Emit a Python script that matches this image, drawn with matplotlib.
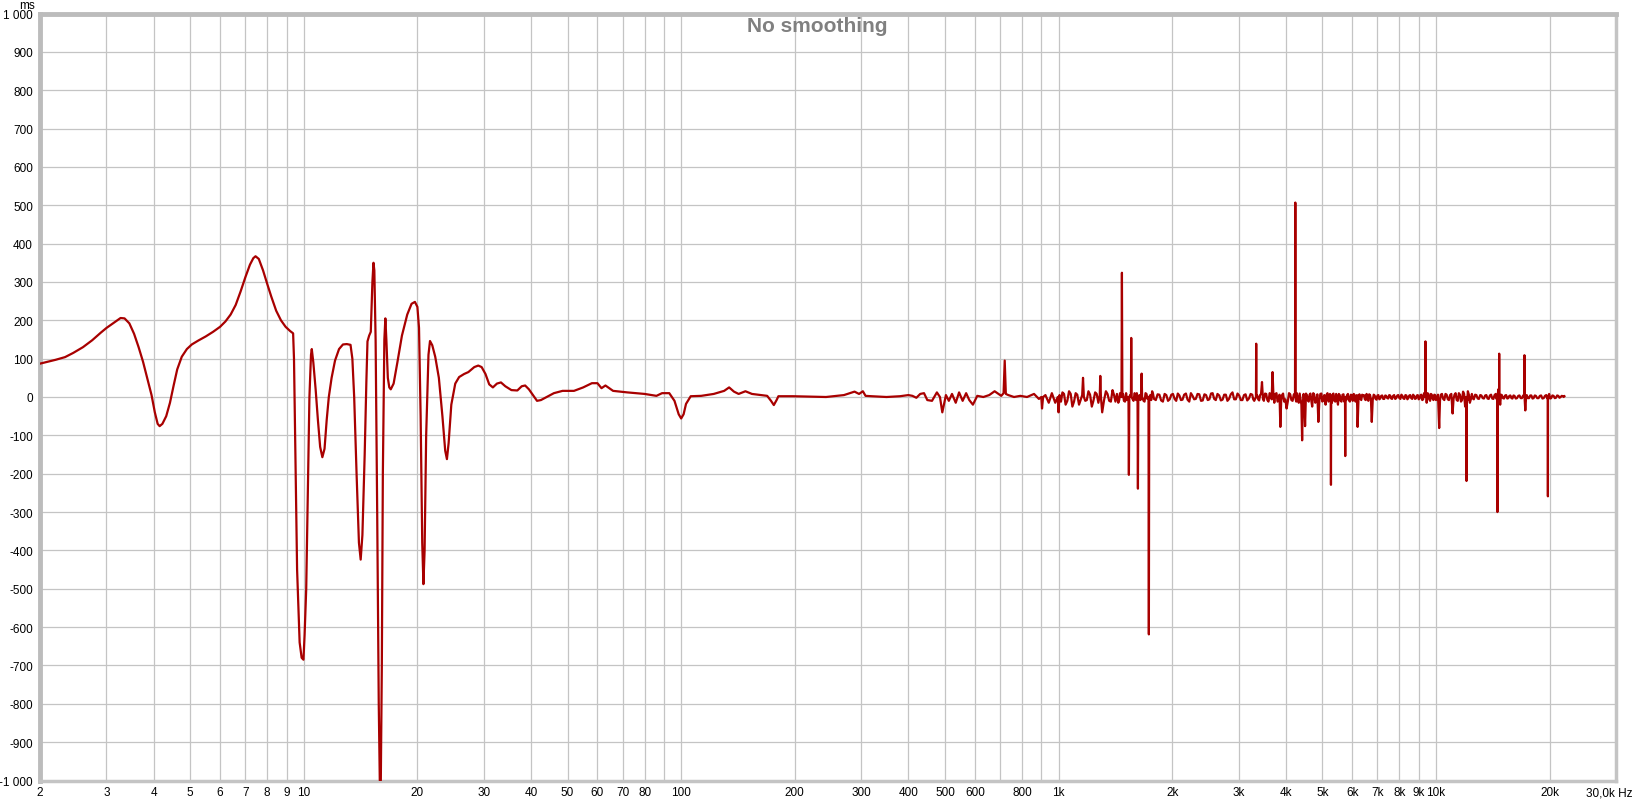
import matplotlib
matplotlib.use("Agg")
import matplotlib.pyplot as plt
from matplotlib.transforms import ScaledTranslation

# Group delay, values in ms.
# 2 Hz - 380 Hz: smooth part
lf_hz = [2.0, 2.1, 2.2, 2.33, 2.45, 2.6, 2.75, 2.9, 3.0, 3.1,
         3.2, 3.27, 3.35, 3.45, 3.55, 3.65, 3.75, 3.85, 3.95, 4.03,
         4.1, 4.15, 4.22, 4.32, 4.42, 4.52, 4.62, 4.75, 4.9, 5.05,
         5.25, 5.5, 5.75, 6.0, 6.2, 6.4, 6.6, 6.8, 7.0, 7.2,
         7.35, 7.45, 7.6, 7.8, 8.0, 8.2, 8.45, 8.7, 8.95, 9.2,
         9.37, 9.42, 9.5, 9.6, 9.75, 9.87, 9.98, 10.05, 10.15, 10.25,
         10.35, 10.45, 10.5, 10.6, 10.75, 10.9, 11.05, 11.2, 11.35, 11.5,
         11.65, 11.85, 12.1, 12.4, 12.7, 13.0, 13.3, 13.45, 13.6, 13.8,
         14.0, 14.15, 14.3, 14.5, 14.65, 14.75, 14.9, 15.05, 15.2, 15.3,
         15.38, 15.5, 15.65, 15.8, 15.9, 16.0, 16.1, 16.2, 16.35, 16.45,
         16.55, 16.7, 16.85, 17.0, 17.3, 17.7, 18.2, 18.8, 19.3, 19.7,
         20.0, 20.2, 20.4, 20.6, 20.75, 20.9, 21.1, 21.4, 21.6, 21.9,
         22.3, 22.8, 23.3, 23.7, 23.95, 24.2, 24.6, 25.2, 25.8, 26.6,
         27.3, 28.3, 29.0, 29.6, 30.3, 31.0, 31.7, 32.5, 33.3, 34.2,
         35.5, 36.8, 37.8, 38.6, 39.5, 40.5, 41.5, 42.5, 44.0, 46.0,
         48.5, 52, 55, 58, 60, 61.5, 63, 66, 72, 80,
         86, 89, 93, 96, 98.5, 100, 101.5, 103, 106, 113,
         122, 130, 134, 138, 142, 148, 154, 169, 173, 176,
         179, 181, 198, 242, 270, 288, 296, 303, 308, 320,
         350, 380]
lf_ms = [87, 92, 97, 104, 115, 130, 148, 168, 180, 190,
         200, 206, 205, 192, 165, 130, 92, 48, 5, -40,
         -70, -76, -70, -50, -15, 30, 72, 105, 125, 137,
         147, 158, 170, 183, 197, 215, 240, 275, 312, 345,
         362, 367, 360, 330, 295, 262, 225, 200, 183, 172,
         166, 100, -150, -450, -640, -680, -685, -620, -500, -250,
         0, 110, 125, 90, 20, -60, -130, -157, -135, -60,
         0, 50, 95, 125, 137, 138, 136, 100, 0, -200,
         -380, -424, -360, -150, 40, 145, 160, 170, 300, 350,
         330, 150, -300, -800, -1000, -1000, -700, -200, 150, 205,
         150, 50, 25, 20, 35, 90, 160, 215, 243, 248,
         235, 180, -50, -380, -488, -400, -100, 110, 146, 135,
         105, 50, -50, -140, -162, -120, -20, 35, 52, 60,
         65, 78, 82, 78, 60, 33, 25, 35, 38, 28,
         18, 17, 28, 30, 20, 5, -10, -8, 0, 10,
         16, 16, 25, 36, 36, 23, 30, 16, 12, 8,
         3, 10, 10, -10, -45, -56, -45, -18, 2, 3,
         8, 16, 25, 14, 8, 15, 8, 3, -10, -21,
         -8, 2, 2, 0, 5, 14, 8, 15, 3, 2,
         0, 2]

# 400 Hz - 1.8 kHz: noisy part with the first spikes
mid_hz = [400, 410, 420, 430, 440, 449, 462, 476, 485, 492,
          503, 512, 522, 534, 545, 557, 569, 580, 593, 609,
          632, 655, 677, 705, 715, 720, 725, 736, 762, 792,
          825, 861, 887, 900, 904, 910, 923, 942, 960, 980,
          995, 1000, 1006, 1024, 1044, 1066, 1088, 1110, 1133, 1155,
          1161, 1167, 1177, 1200, 1225, 1250, 1275, 1286, 1290, 1295,
          1305, 1335, 1362, 1390, 1415, 1440, 1455, 1468, 1472, 1476,
          1490, 1510, 1525, 1532, 1536, 1540, 1548, 1555, 1558, 1562,
          1570, 1590, 1605, 1619, 1623, 1627, 1640, 1655, 1660, 1665,
          1680, 1700, 1720, 1731, 1735, 1739, 1750, 1770, 1790]
mid_ms = [5, 3, -2, 8, 10, -8, -10, 12, 0, -40,
          5, -10, 8, -15, 12, -10, 10, -8, -20, 3,
          0, 5, 15, 3, 10, 95, 8, 5, 0, 3,
          0, 8, -5, 0, -30, 0, 5, -15, 10, -15,
          0, -40, 5, 12, -20, 15, -25, 10, -20, 5,
          50, 0, -10, 15, -25, 12, -15, 5, 55, 0,
          -40, 15, -10, 18, -12, -15, 10, 0, 324, 0,
          -10, 10, 0, 0, -203, 0, 5, 0, 154, 0,
          -5, 10, -8, 0, -239, 0, 5, 0, 61, 0,
          -10, 10, -5, 0, -619, 0, 5, 15, -5]

# 1.8 kHz - 22 kHz
hi_hz = [1810, 1850, 1890, 1930, 1970, 2010, 2050, 2090, 2130, 2175,
         2220, 2265, 2310, 2360, 2410, 2460, 2510, 2560, 2610, 2665,
         2720, 2775, 2830, 2890, 2950, 3010, 3070, 3130, 3195, 3260,
         3300, 3335, 3340, 3345, 3380, 3420, 3460, 3500, 3550, 3600,
         3650, 3690, 3730, 3780, 3830, 3870, 3910, 3960, 4020, 4080,
         4140, 4200, 4232, 4240, 4248, 4280, 4330, 4380, 4420, 4460,
         4500, 4550, 4600, 4650, 4700, 4760, 4820, 4880, 4940, 5000,
         5060, 5100, 5160, 5220, 5262, 5270, 5278, 5320, 5380, 5440,
         5500, 5560, 5620, 5690, 5742, 5750, 5758, 5810, 5880, 5950,
         6020, 6090, 6150, 6200, 6270, 6340, 6410, 6480, 6550, 6620,
         6690, 6760, 6840, 6920, 7000, 7080, 7160, 7250, 7340, 7430,
         7520, 7610, 7700, 7800, 7900, 8000, 8100, 8200, 8300, 8400,
         8500, 8600, 8700, 8800, 8900, 9000, 9100, 9200, 9300, 9370,
         9380, 9390, 9450, 9550, 9650, 9750, 9850, 9950, 10050, 10200,
         10300, 10450, 10600, 10750, 10900, 11070, 11200, 11350, 11500, 11650,
         11800, 11950, 12040, 12050, 12060, 12150, 12300, 12450, 12600, 12800,
         13000, 13200, 13400, 13600, 13800, 14000, 14200, 14400, 14540, 14550,
         14560, 14630, 14700, 14710, 14720, 14800, 14950, 15150, 15350, 15550,
         15750, 15950, 16150, 16400, 16650, 16900, 17150, 17160, 17170, 17250,
         17400, 17650, 17900, 18150, 18400, 18700, 19000, 19300, 19600, 19790,
         19800, 19810, 19950, 20200, 20500, 20800, 21100, 21400, 21700, 21900]
hi_ms = [-8, 6, -12, 5, -6, 8, -10, 4, -7, 9,
         -12, 3, -5, 7, -9, 5, -6, 10, -8, 4,
         -7, 6, -5, 12, -6, 4, -8, 7, -4, 6,
         -10, 0, 139, 0, -6, 5, 39, -10, 8, -12,
         6, 65, -15, 10, -8, -78, 5, -12, -30, 10,
         -8, 6, 0, 507, -5, 10, -15, -8, -113, 8,
         -76, 5, -12, 9, -25, 6, -10, -65, 8, -12,
         5, -20, 10, -8, 0, -229, 0, 6, -10, 8,
         -20, 5, -12, 7, 0, -154, 0, 4, -8, 6,
         -10, 5, -6, -78, 7, -8, 4, -6, 8, -10,
         5, -65, 6, -5, 4, -6, 3, -5, 4, -3,
         5, -4, 3, -5, 4, -3, 6, -4, 5, -6,
         4, -3, 6, -5, 4, -6, 5, -8, 10, 0,
         145, 0, -15, 8, -10, 6, -8, 5, -6, -81,
         6, -5, 8, -6, 5, -43, 6, -8, 10, -12,
         14, -25, 0, -219, 0, 15, -15, 8, -6, 5,
         -5, 4, -4, 5, -5, 6, -5, 8, 0, -300,
         0, 20, 0, 113, 0, -20, 5, -4, 5, -3,
         4, -4, 3, -3, 4, -3, 0, 109, 0, -35,
         5, -3, 4, -3, 3, -3, 4, -3, 5, 0,
         -259, 0, 8, -3, 3, -2, 3, 0, 2, 2]

# extra readings in between, where the trace is a dense noise band
band_hz = [1015, 1034, 1055, 1077, 1099, 1121, 1144, 1188, 1212, 1237,
           1262, 1320, 1348, 1376, 1402, 1428, 1448, 1482, 1500, 1518,
           1580, 1598, 1612, 1648, 1690, 1710, 1760, 1780,
           1830, 1870, 1910, 1950, 1990, 2030, 2070, 2110, 2152, 2197,
           2242, 2287, 2335, 2385, 2435, 2485, 2535, 2585, 2637, 2692,
           2747, 2802, 2860, 2920, 2980, 3040, 3100, 3162, 3228, 3280,
           3362, 3400, 3440, 3480, 3525, 3575, 3625, 3670, 3710, 3755,
           3805, 3850, 3890, 3935, 3990, 4050, 4110, 4170, 4216, 4264,
           4305, 4355, 4400, 4440, 4480, 4525, 4575, 4625, 4675, 4730,
           4790, 4850, 4910, 4970, 5030, 5080, 5130, 5190, 5240, 5300,
           5350, 5410, 5470, 5530, 5590, 5655, 5715, 5785, 5845, 5915,
           5985, 6055, 6120, 6175, 6235, 6305, 6375, 6445, 6515, 6585,
           6655, 6725, 6800, 6880, 6960,
           7040, 7120, 7205, 7295, 7385, 7475, 7565, 7655, 7750, 7850,
           7950, 8050, 8150, 8250, 8350, 8450, 8550, 8650, 8750, 8850,
           8950, 9050, 9150, 9250, 9335,
           9420, 9500, 9600, 9700, 9800, 9900, 10000, 10125, 10250, 10375,
           10525, 10675, 10825, 10985, 11135, 11275, 11425, 11575, 11725, 11875,
           12105, 12225, 12375, 12525, 12700, 12900, 13100, 13300, 13500, 13700,
           13900, 14100, 14300, 14470,
           14875, 15050, 15250, 15450, 15650, 15850, 16050, 16275, 16525, 16775,
           17025, 17325, 17525, 17775, 18025, 18275, 18550, 18850, 19150, 19450,
           19700, 20075, 20350, 20650, 20950, 21250, 21550, 21800]
band_ms = [-12, 8, -10, 8, -12, 6, -8, -8, 6, -10,
           8, -8, 8, -12, 6, 8, -8, 8, -12, -8,
           -10, 6, 10, -8, -12, 8, -8, 8,
           7, -9, 8, -10, 6, -5, 9, -8, 6, -7,
           10, -6, 8, -10, 7, -8, 9, -5, 8, -9,
           6, -10, 7, -6, 9, -8, 5, -9, 8, -6,
           4, -9, 8, -5, 9, -8, 10, -6, 5, 8,
           -12, 6, -10, 9, -6, -12, 7, -10, 8, -12,
           -6, 9, -20, -15, -10, 9, -8, 6, -10, 10,
           -15, 7, -10, 9, -6, -12, 6, -12, 8, -15,
           9, -12, -6, 8, -10, 6, -12, -8, 8, -12,
           5, 8, -12, 5, -5, -4, 6, 5, -8, -3,
           7, -6, -8, 4, -7,
           5, -4, 4, -5, 3, -4, 4, -5, 5, -3,
           5, -5, 3, -5, 4, -3, 5, -5, 3, -4,
           5, -4, 6, -6, 5,
           6, 10, -6, 8, -5, 6, -8, 6, -10, 8,
           -8, 6, -8, 8, -5, 10, -10, 6, -8, 8,
           -10, 6, -6, -4, 6, -4, 5, -3, 4, -4,
           4, -4, 5, -5,
           6, -3, 4, -4, 3, -3, 4, -4, 3, -3,
           4, -4, -3, 4, -4, 4, -3, 3, -4, 3,
           -3, -4, 4, -3, 4, -2, 3, 0]

# axis ticks and labels
x_ticks = [2, 3, 4, 5, 6, 7, 8, 9, 10, 20, 30, 40, 50, 60, 70, 80, 100,
           200, 300, 400, 500, 600, 800, 1000,
           2000, 3000, 4000, 5000, 6000, 7000, 8000, 9000, 10000, 20000, 30000]
x_labels = ['2', '3', '4', '5', '6', '7', '8', '9', '10', '20', '30', '40', '50',
            '60', '70', '80', '100', '200', '300', '400', '500', '600', '800', '1k',
            '2k', '3k', '4k', '5k', '6k', '7k', '8k', '9k', '10k', '20k', '30,0k Hz']
y_ticks = [1000, 900, 800, 700, 600, 500, 400, 300, 200, 100, 0,
           -100, -200, -300, -400, -500, -600, -700, -800, -900, -1000]
y_labels = ['1 000', '900', '800', '700', '600', '500', '400', '300', '200', '100', '0',
            '-100', '-200', '-300', '-400', '-500', '-600', '-700', '-800', '-900', '-1 000']

assert len(lf_hz) == len(lf_ms)
assert len(mid_hz) == len(mid_ms)
assert len(hi_hz) == len(hi_ms)
assert len(band_hz) == len(band_ms)

plt.rcParams['font.family'] = ['Liberation Sans', 'DejaVu Sans']

W, H = 1634, 803
fig = plt.figure(figsize=(W / 100, H / 100), dpi=100, facecolor='white')
ax = fig.add_axes([40 / W, 21.5 / H, (1616 - 40) / W, (781.6 - 14.6) / H])

pts = sorted(zip(lf_hz + mid_hz + hi_hz + band_hz, lf_ms + mid_ms + hi_ms + band_ms))
hz = [p[0] for p in pts]
ms = [p[1] for p in pts]
ax.plot(hz, ms, color='#a80000', lw=1.6, solid_joinstyle='round', zorder=3)

ax.set_xscale('log')
ax.set_xlim(2, 30000)
ax.set_ylim(-1000, 1000)

# grid at every 1..9 multiple, labels only on some
grid_x = [m * 10 ** e for e in range(0, 5) for m in range(1, 10)]
grid_x = [g for g in grid_x if 2 <= g <= 30000]
ax.set_xticks(grid_x, minor=True)
ax.set_xticks(x_ticks)
ax.set_xticklabels(x_labels)
ax.set_yticks(y_ticks)
ax.set_yticklabels(y_labels)
ax.tick_params(axis='both', which='both', length=0, labelsize=8.5, colors='black')
ax.tick_params(axis='x', pad=4)
ax.tick_params(axis='y', pad=5)
ax.grid(True, which='both', color='#c4c4c4', lw=0.9)
ax.set_axisbelow(True)

# last label "30,0k Hz" ends at the right edge of the figure
last = ax.get_xticklabels()[-1]
last.set_horizontalalignment('right')
last.set_transform(last.get_transform() + ScaledTranslation(17 / 100, 0, fig.dpi_scale_trans))

for side in ['top', 'left']:
    ax.spines[side].set_color('#bcbcbc')
    ax.spines[side].set_linewidth(3.5)
for side in ['bottom', 'right']:
    ax.spines[side].set_color('#c4c4c4')
    ax.spines[side].set_linewidth(2.5)

fig.text(0.5, 1 - 27 / H, 'No smoothing', ha='center', va='center',
         fontsize=15, fontweight='bold', color='#808080')
fig.text(27 / W, 1 - 6 / H, 'ms', ha='center', va='center', fontsize=8.5)

fig.savefig('out.png', dpi=100, facecolor='white')
